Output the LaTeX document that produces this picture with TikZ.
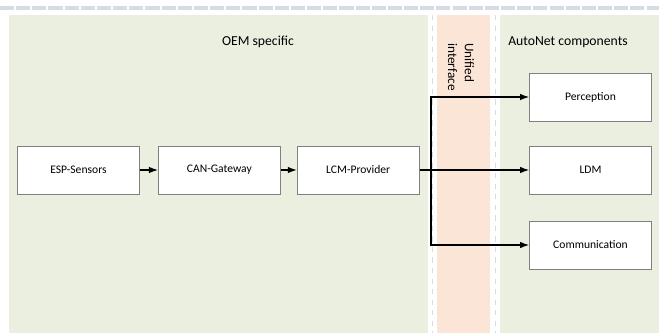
\documentclass[tikz,border=0pt]{standalone}
\usepackage{fontspec}
\setmainfont{Carlito}
\usetikzlibrary{arrows.meta,positioning}
\definecolor{oemgreen}{HTML}{EAEFDF}
\definecolor{ifaceorange}{HTML}{FBE5D6}
\definecolor{gridgray}{HTML}{D6DCE4}
\definecolor{boxgray}{HTML}{808080}

\begin{document}
\begin{tikzpicture}[x=0.02cm,y=-0.02cm,
    comp/.style={draw=boxgray,fill=white,line width=0.5pt,minimum width=2.44cm,minimum height=0.96cm,inner sep=0pt,font=\fontsize{6.6}{8}\selectfont},
    title/.style={font=\fontsize{7.8}{9.6}\selectfont},
    flow/.style={-{Latex[length=1.8mm,width=1.3mm]},line width=0.6pt}]
            \useasboundingbox (0,0) rectangle (659,333);
            % lanes
            \fill[oemgreen] (9,15) rectangle (428,333);
            \fill[ifaceorange] (437,15) rectangle (490,333);
            \fill[oemgreen] (500,15) rectangle (659,333);
            \draw[gridgray,line width=2.5pt,dash pattern=on 8pt off 1.2pt] (0,8) -- (659,8);
            \draw[gridgray,dashed] (432,15) -- (432,333);
            \draw[gridgray,dashed] (495,15) -- (495,333);
            % lane titles
            \node[title] (oem) at (258,42) {OEM specific};
            \node[title] (autonet) at (568,42) {AutoNet components};
            \node[title,font=\fontsize{7.5}{9.6}\selectfont,rotate=-90,anchor=west,align=left] (iface) at (461,37) {Unified\\interface};
            % components
            \node[comp] (esp) at (78.5,170) {ESP-Sensors};
            \node[comp,right=0.36cm of esp] (can) {CAN-Gateway};
            \node[comp,right=0.32cm of can] (lcm) {LCM-Provider};
            \node[comp] (perc) at (590.5,97) {Perception};
            \node[comp] (ldm) at (590.5,170) {LDM};
            \node[comp] (comm) at (590.5,245) {Communication};
            % connections
            \coordinate (split) at (431,170);
            \draw[flow] (esp) -- (can);
            \draw[flow] (can) -- (lcm);
            \draw[flow] (lcm) -- (ldm);
            \draw[flow] (split) |- (perc);
            \draw[flow] (split) |- (comm);
\end{tikzpicture}
\end{document}
